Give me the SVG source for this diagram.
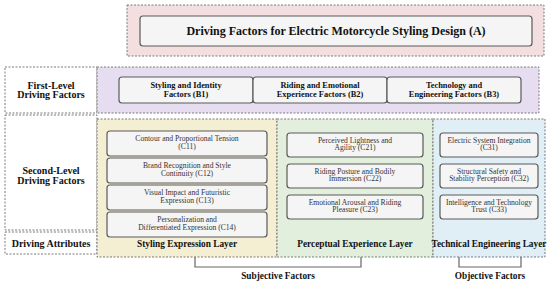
<svg xmlns="http://www.w3.org/2000/svg" width="550" height="282" viewBox="0 0 550 282">
<style>
.zone{stroke:#7a7a7a;stroke-width:1;stroke-dasharray:2,1.5}
.node{fill:#f5f5f5;stroke:#5a5a5a;stroke-width:1.2}
.t{font-family:"Liberation Serif","Times New Roman",serif;text-anchor:middle;fill:#111}
.title{font-size:12px;font-weight:bold}
.lab{font-size:10px;font-weight:bold}
.b{font-size:8.4px;font-weight:bold}
.c{font-size:7.6px;fill:#333}
.layer{font-size:9.3px;font-weight:bold}
.br{fill:none;stroke:#666;stroke-width:1.2}
</style>
<rect width="550" height="282" fill="#ffffff"/>
<!-- zones -->
<rect class="zone" x="127" y="5" width="417" height="51" fill="#f3dfdf"/>
<rect class="zone" x="5" y="67" width="92" height="46" fill="#ffffff"/>
<rect class="zone" x="97" y="67" width="442" height="46" fill="#e7ddf0"/>
<rect class="zone" x="5" y="115" width="92" height="115" fill="#ffffff"/>
<rect class="zone" x="5" y="232" width="92" height="22" fill="#ffffff"/>
<rect class="zone" x="97" y="119" width="180" height="138" fill="#f4eed2"/>
<rect class="zone" x="277" y="119" width="156" height="138" fill="#e2efdc"/>
<rect class="zone" x="433" y="119" width="112" height="138" fill="#e0eef6"/>

<text class="t lab" x="51" y="88.5">First-Level</text>
<text class="t lab" x="51" y="98">Driving Factors</text>
<text class="t lab" x="51" y="174">Second-Level</text>
<text class="t lab" x="51" y="183.5">Driving Factors</text>
<text class="t lab" x="51" y="246.5">Driving Attributes</text>

<g id="A">
<rect class="node" x="140" y="16" width="392" height="30" rx="3"/>
<text class="t title" x="336" y="35">Driving Factors for Electric Motorcycle Styling Design (A)</text>
</g>

<g id="B1">
<rect class="node" x="119" y="77" width="134" height="26" rx="3"/>
<text class="t b" x="186" y="87.5">Styling and Identity</text>
<text class="t b" x="186" y="96.5">Factors (B1)</text>
</g>
<g id="B2">
<rect class="node" x="253" y="77" width="134" height="26" rx="3"/>
<text class="t b" x="320" y="87.5">Riding and Emotional</text>
<text class="t b" x="320" y="96.5">Experience Factors (B2)</text>
</g>
<g id="B3">
<rect class="node" x="387" y="77" width="134" height="26" rx="3"/>
<text class="t b" x="454" y="87.5">Technology and</text>
<text class="t b" x="454" y="96.5">Engineering Factors (B3)</text>
</g>

<g id="C11">
<rect class="node" x="107" y="131" width="160" height="25" rx="3"/>
<text class="t c" x="187" y="141">Contour and Proportional Tension</text>
<text class="t c" x="187" y="148.5">(C11)</text>
</g>
<g id="C12">
<rect class="node" x="107" y="158" width="160" height="25" rx="3"/>
<text class="t c" x="187" y="168">Brand Recognition and Style</text>
<text class="t c" x="187" y="175.5">Continuity (C12)</text>
</g>
<g id="C13">
<rect class="node" x="107" y="185" width="160" height="25" rx="3"/>
<text class="t c" x="187" y="195">Visual Impact and Futuristic</text>
<text class="t c" x="187" y="202.5">Expression (C13)</text>
</g>
<g id="C14">
<rect class="node" x="107" y="212" width="160" height="25" rx="3"/>
<text class="t c" x="187" y="222">Personalization and</text>
<text class="t c" x="187" y="229.5">Differentiated Expression (C14)</text>
</g>

<g id="C21">
<rect class="node" x="287" y="133" width="136" height="24" rx="3"/>
<text class="t c" x="355" y="142.5">Perceived Lightness and</text>
<text class="t c" x="355" y="150">Agility (C21)</text>
</g>
<g id="C22">
<rect class="node" x="287" y="164" width="136" height="24" rx="3"/>
<text class="t c" x="355" y="173.5">Riding Posture and Bodily</text>
<text class="t c" x="355" y="181">Immersion (C22)</text>
</g>
<g id="C23">
<rect class="node" x="287" y="195" width="136" height="24" rx="3"/>
<text class="t c" x="355" y="204.5">Emotional Arousal and Riding</text>
<text class="t c" x="355" y="212">Pleasure (C23)</text>
</g>

<g id="C31">
<rect class="node" x="440" y="133" width="98" height="24" rx="3"/>
<text class="t c" x="489" y="142.5">Electric System Integration</text>
<text class="t c" x="489" y="150">(C31)</text>
</g>
<g id="C32">
<rect class="node" x="440" y="164" width="98" height="24" rx="3"/>
<text class="t c" x="489" y="173.5">Structural Safety and</text>
<text class="t c" x="489" y="181">Stability Perception (C32)</text>
</g>
<g id="C33">
<rect class="node" x="440" y="195" width="98" height="24" rx="3"/>
<text class="t c" x="489" y="204.5">Intelligence and Technology</text>
<text class="t c" x="489" y="212">Trust (C33)</text>
</g>

<text class="t layer" x="187" y="247">Styling Expression Layer</text>
<text class="t layer" x="355" y="247">Perceptual Experience Layer</text>
<text class="t layer" x="489" y="247">Technical Engineering Layer</text>

<g id="connectors">
<path class="br" d="M195,257 V267 H361 V257"/>
<path class="br" d="M459,257 V267 H521 V257"/>
</g>
<text class="t layer" x="278" y="279">Subjective Factors</text>
<text class="t layer" x="490" y="279">Objective Factors</text>
</svg>
